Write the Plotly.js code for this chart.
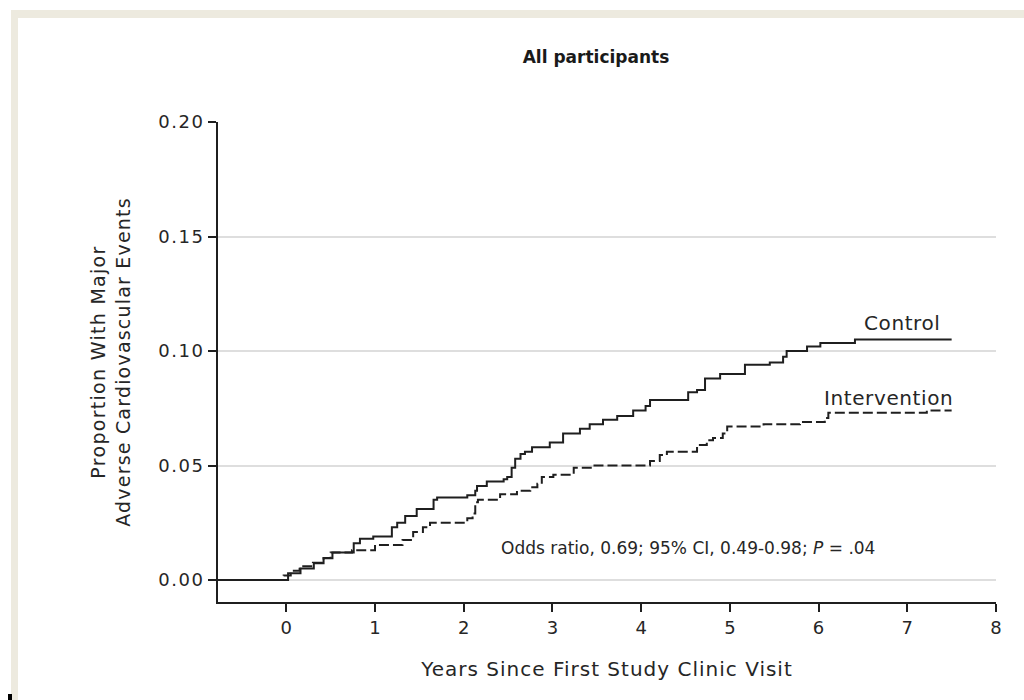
<!DOCTYPE html>
<html>
<head>
<meta charset="utf-8">
<script src="https://cdn.plot.ly/plotly-3.0.1.min.js"></script>
<style>
  html, body { margin: 0; padding: 0; background: #ffffff; }
  #wrap { position: relative; width: 1024px; height: 700px; overflow: hidden; }
  #chart { position: absolute; left: 0; top: 0; width: 1024px; height: 700px; }
  .band { position: absolute; background: #edeadf; pointer-events: none; }
  #chart .ytick text { letter-spacing: 1.5px; }
</style>
</head>
<body>
<div id="wrap">
  <div id="chart"></div>
  <div class="band" style="left:11px; top:10px; width:1013px; height:8px;"></div>
  <div class="band" style="left:11px; top:10px; width:7px; height:690px;"></div>
  <div style="position:absolute; left:8px; top:694px; width:4px; height:6px; background:#000;"></div>
</div>
<script>
// Control group: cumulative proportion (step times in years, proportion)
const controlYears = [-0.77, -0.05, 0.02, 0.16, 0.31, 0.42, 0.52, 0.76, 0.83, 0.98, 1.19, 1.25, 1.34, 1.47, 1.66, 1.70, 2.04, 2.13, 2.15, 2.26, 2.45, 2.49, 2.54, 2.58, 2.64, 2.69, 2.77, 2.97, 3.12, 3.31, 3.42, 3.57, 3.73, 3.91, 4.05, 4.10, 4.53, 4.63, 4.72, 4.89, 5.17, 5.45, 5.60, 5.64, 5.87, 6.02, 6.41, 7.50];
const controlProp  = [0, 0, 0.003, 0.005, 0.0073, 0.0095, 0.012, 0.016, 0.018, 0.019, 0.023, 0.025, 0.028, 0.031, 0.035, 0.036, 0.037, 0.039, 0.041, 0.043, 0.044, 0.045, 0.049, 0.053, 0.055, 0.056, 0.058, 0.060, 0.064, 0.066, 0.068, 0.070, 0.0716, 0.074, 0.076, 0.0786, 0.082, 0.083, 0.088, 0.090, 0.094, 0.095, 0.0975, 0.100, 0.102, 0.1035, 0.105, 0.105];

// Intervention group
const interventionYears = [-0.77, -0.03, 0.05, 0.15, 0.30, 0.42, 0.50, 0.74, 1.00, 1.31, 1.43, 1.54, 1.62, 2.04, 2.10, 2.13, 2.16, 2.41, 2.60, 2.75, 2.83, 2.88, 3.01, 3.24, 3.46, 4.10, 4.21, 4.29, 4.63, 4.74, 4.81, 4.92, 4.97, 5.38, 5.79, 6.07, 6.11, 7.22, 7.50];
const interventionProp  = [0, 0.002, 0.004, 0.006, 0.0075, 0.0096, 0.012, 0.013, 0.0153, 0.0175, 0.021, 0.023, 0.025, 0.027, 0.029, 0.034, 0.035, 0.0375, 0.039, 0.0405, 0.042, 0.045, 0.046, 0.049, 0.050, 0.052, 0.0546, 0.056, 0.059, 0.061, 0.062, 0.064, 0.067, 0.068, 0.069, 0.0707, 0.073, 0.074, 0.074];

const xTickVals = [0, 1, 2, 3, 4, 5, 6, 7, 8];
const yTickVals = [0, 0.05, 0.10, 0.15, 0.20];

const FONT = "'DejaVu Sans', sans-serif";
const INK = '#1f1f1f';
const TXT = '#262626';
const spaced = (s, px) => '<span style="letter-spacing:' + px + 'px">' + s + '</span>';

const traces = [
  {
    x: controlYears, y: controlProp, name: 'Control', type: 'scatter', mode: 'lines',
    line: { shape: 'hv', color: INK, width: 2 }
  },
  {
    x: interventionYears, y: interventionProp, name: 'Intervention', type: 'scatter', mode: 'lines',
    line: { shape: 'hv', color: INK, width: 2, dash: '10px,4px' }
  }
];

const layout = {
  width: 1024, height: 700,
  margin: { l: 218, r: 28, t: 122, b: 98 },
  paper_bgcolor: '#ffffff', plot_bgcolor: '#ffffff',
  showlegend: false,
  font: { family: FONT, size: 17, color: TXT },
  title: {
    text: '<b>All participants</b>',
    font: { family: FONT, size: 17, color: '#1a1a1a' },
    xref: 'container', yref: 'container', x: 596 / 1024, y: 1 - 57 / 700,
    xanchor: 'center', yanchor: 'middle'
  },
  xaxis: {
    range: [-0.77, 8], tickvals: xTickVals, ticktext: xTickVals.map(String),
    showgrid: false, zeroline: false, showline: true, linecolor: INK, linewidth: 2,
    ticks: 'outside', ticklen: 8, tickwidth: 2, tickcolor: INK,
    tickfont: { family: FONT, size: 18, color: TXT },
    title: { text: spaced('Years Since First Study Clinic Visit', 1), font: { family: FONT, size: 20, color: TXT }, standoff: 25 }
  },
  yaxis: {
    range: [-0.0096, 0.20], tickvals: yTickVals, tickformat: '.2f',
    showgrid: true, gridcolor: '#dedede', gridwidth: 2, zeroline: false,
    showline: true, linecolor: INK, linewidth: 2,
    ticks: 'outside', ticklen: 8, tickwidth: 2, tickcolor: INK,
    tickfont: { family: FONT, size: 18, color: TXT },
    title: { text: spaced('Proportion With Major', 1.3) + '<br>' + spaced('Adverse Cardiovascular Events', 1.2), font: { family: FONT, size: 19, color: TXT }, standoff: 29 }
  },
  annotations: [
    { x: 7.40, y: 0.1122, xref: 'x', yref: 'y', text: spaced('Control', 0.6), showarrow: false, xanchor: 'right', yanchor: 'middle',
      font: { family: FONT, size: 20, color: TXT } },
    { x: 7.54, y: 0.0795, xref: 'x', yref: 'y', text: spaced('Intervention', 0.6), showarrow: false, xanchor: 'right', yanchor: 'middle',
      font: { family: FONT, size: 20, color: TXT } },
    { x: 4.53, y: 0.014, xref: 'x', yref: 'y', text: 'Odds ratio, 0.69; 95% CI, 0.49-0.98; <i>P</i> = .04', showarrow: false,
      xanchor: 'center', yanchor: 'middle', font: { family: FONT, size: 17, color: TXT } }
  ]
};

Plotly.newPlot('chart', traces, layout, { staticPlot: true, displayModeBar: false });
</script>
</body>
</html>
